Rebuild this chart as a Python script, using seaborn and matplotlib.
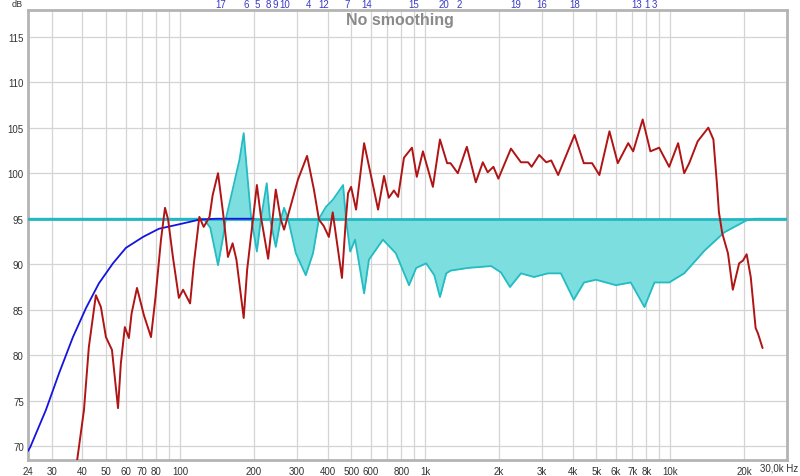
import numpy as np
import pandas as pd
import matplotlib
matplotlib.use("Agg")
import matplotlib.pyplot as plt
import matplotlib.transforms as mtransforms
import seaborn as sns

# measured response (red)
meas_freq = [38, 40.6, 42.5, 45.4, 47.6, 49.9, 52.8, 55.9, 57.4, 59.6, 61.9, 63.5, 66.8, 71.3, 76.2,
             79.5, 83.7, 86.9, 89.5, 93.6, 99, 103, 110, 114, 120, 125, 132, 136, 143, 150, 157, 164, 170,
             182, 188, 206, 214, 229, 246, 258, 266, 303, 330, 352, 369, 386, 405, 420, 458, 475, 485,
             499, 523, 564, 603, 643, 680, 711, 746, 776, 820, 884, 925, 980, 1076, 1150, 1230, 1270,
             1360, 1480, 1610, 1720, 1800, 1900, 1990, 2240, 2460, 2630, 2720, 2920, 3120, 3270, 3490,
             4070, 4440, 4800, 5140, 5650, 6110, 6740, 7060, 7720, 8300, 9010, 9900, 10770, 11400,
             11950, 12940, 14300, 15000, 15500, 15800, 16300, 17200, 18000, 19100, 19800, 20500,
             21300, 22300, 22800, 23800]
meas_db = [68.3, 74, 80.9, 86.6, 85.3, 82, 80.6, 74.2, 79.1, 83.1, 81.9, 84.6, 87.4, 84.4, 82,
           86.4, 92.7, 96.2, 94.9, 90.8, 86.3, 87.2, 85.7, 90.1, 95.2, 94.1, 95.2, 97.6, 100, 95.6, 90.8, 92.3, 90.5,
           84.1, 89.4, 98.7, 95.2, 90.6, 98.2, 94.9, 93.8, 99.3, 101.9, 98.2, 94.9, 94.2, 93, 95.7, 88.5, 94.9, 97.8,
           98.5, 96, 103.3, 99.6, 96, 99.7, 97.3, 98.1, 97.4, 101.7, 102.8, 99.6, 102.4, 98.5, 103.7, 101.1, 101.1,
           100, 102.9, 99, 101.2, 100.1, 100.7, 99.4, 102.7, 101.2, 101.2, 100.7, 102, 101.2, 101.4, 99.8,
           104.2, 101.1, 101.1, 99.8, 104.6, 101.1, 103.3, 102.4, 105.9, 102.4, 102.8, 100.7, 103.3, 100,
           101.1, 103.5, 105, 103.7, 98.9, 95.7, 93.4, 91.2, 87.2, 90.1, 90.4, 91.1,
           88.6, 83, 82.4, 80.8]

# EQ filter response (cyan)
eq_freq = [24, 115, 125, 133, 143, 150, 154, 165, 175, 182, 188, 195, 206, 214, 226, 233, 246, 258,
           266, 276, 297, 326, 349, 369, 394, 421, 463, 476, 495, 518, 564, 590, 673, 760, 860, 920,
           1010, 1090, 1150, 1220, 1270, 1500, 1860, 2040, 2220, 2460, 2780, 3170, 3580, 4040, 4450,
           4980, 6000, 6900, 7850, 8620, 9900, 11400, 13800, 16600, 20400, 22000, 30000]
eq_db = [95, 95, 95, 94, 89.9, 93, 95, 98.5, 101.5, 104.4, 100, 95.2, 91.4, 95, 98.9, 95, 91.9, 95,
         96.2, 95, 91.2, 88.8, 91.2, 95, 96.3, 97.1, 98.7, 94.9, 91.4, 92.7, 86.8, 90.5, 92.7, 91.2, 87.7, 89.6,
         90.1, 88.8, 86.4, 89, 89.3, 89.6, 89.8, 89.1, 87.5, 89, 88.6, 89, 89, 86.1, 88,
         88.3, 87.7, 88, 85.3, 88, 88, 89, 91.5, 93.5, 94.8, 95, 95]

# target curve (blue)
target_freq = [24, 24.5, 28.4, 32.1, 36.6, 41.4, 46.7, 53.3, 60.2, 70.7, 82.1, 96, 120, 140, 200]
target_db = [69.5, 69.9, 74, 78, 82, 85.2, 87.9, 90.1, 91.8, 93, 93.9, 94.3, 94.9, 95, 95]

target_level = 95

# filter markers along the top
filter_labels = ["17", "6", "5", "8", "9", "10", "4", "12", "7", "14", "15", "20", "2",
                 "19", "16", "18", "13", "1", "3"]
filter_freq = [147, 186, 206, 229, 244, 268, 336, 387, 480, 580, 901, 1190, 1376,
               2345, 3000, 4083, 7330, 8050, 8650]

grid_freq = [30, 40, 50, 60, 70, 80, 90, 100, 200, 300, 400, 500, 600, 700, 800, 900,
             1000, 2000, 3000, 4000, 5000, 6000, 7000, 8000, 9000, 10000, 20000]
grid_labels = ["30", "40", "50", "60", "70", "80", "", "100", "200", "300", "400", "500", "600", "",
               "800", "", "1k", "2k", "3k", "4k", "5k", "6k", "7k", "8k", "", "10k", "20k"]

sns.set_style("white")
plt.rcParams["font.family"] = ["Liberation Sans", "DejaVu Sans"]

fig = plt.figure(figsize=(8, 4.77), dpi=100)
ax = fig.add_axes([0.035, 0.0335, 0.949, 0.943])

meas = pd.DataFrame({"freq": meas_freq, "db": meas_db})
eq = pd.DataFrame({"freq": eq_freq, "db": eq_db})
target = pd.DataFrame({"freq": target_freq, "db": target_db})

ax.fill_between(eq["freq"], target_level, eq["db"], color="#7cdede", lw=0, zorder=2)
sns.lineplot(data=eq, x="freq", y="db", color="#22bcc2", lw=1.3, ax=ax, zorder=3,
             solid_joinstyle="round")
ax.axhline(target_level, color="#22b8c4", lw=2, zorder=3)
sns.lineplot(data=target, x="freq", y="db", color="#1414e0", lw=1.3, ax=ax, zorder=4,
             solid_joinstyle="round")
sns.lineplot(data=meas, x="freq", y="db", color="#b01414", lw=1.4, ax=ax, zorder=5,
             solid_joinstyle="round")

ax.set_xscale("log")
ax.set_xlim(24, 30000)
ax.set_ylim(68.5, 117.9)

ax.set_xticks([24] + grid_freq)
ax.set_xticklabels(["24"] + grid_labels)
ax.xaxis.set_minor_locator(matplotlib.ticker.NullLocator())
ax.set_yticks(range(70, 116, 5))
ax.tick_params(axis="both", length=0, labelsize=7, labelcolor="#333333")
ax.tick_params(axis="x", pad=4)
ax.tick_params(axis="y", pad=3)
ax.grid(True, color="#d4d4d4", lw=0.9, zorder=0)
ax.set_axisbelow(True)
ax.set_xlabel("")
ax.set_ylabel("")
for sp in ax.spines.values():
    sp.set_color("#b4b4b4")
    sp.set_linewidth(2)

ax.text(0.49, 0.98, "No smoothing", transform=ax.transAxes, ha="center", va="center",
        fontsize=11.5, fontweight="bold", color="#8a8a8a")

trans = mtransforms.blended_transform_factory(ax.transData, ax.transAxes)
for f, lab in zip(filter_freq, filter_labels):
    ax.text(f, 1.013, lab, transform=trans, ha="center", va="center",
            fontsize=7, color="#3a3ac8", clip_on=False)

fig.text(0.015, 0.99, "dB", ha="left", va="center", fontsize=6.5, color="#333333")
fig.text(0.998, 0.017, "30,0k Hz", ha="right", va="center", fontsize=7, color="#333333")

fig.savefig("out.png", dpi=100)
